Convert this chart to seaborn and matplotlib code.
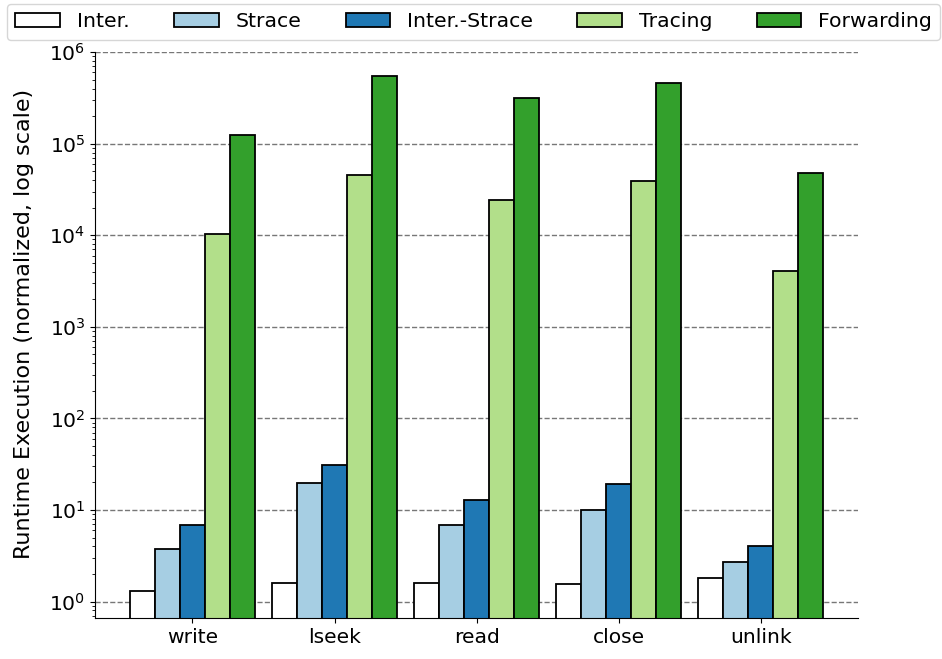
import matplotlib
matplotlib.use("Agg")
import matplotlib.pyplot as plt
import seaborn as sns
import pandas as pd

operations = ["write", "lseek", "read", "close", "unlink"]
methods = ["Inter.", "Strace", "Inter.-Strace", "Tracing", "Forwarding"]
inter = [1.3, 1.6, 1.58, 1.56, 1.82]
strace = [3.8, 19.6, 6.8, 10.1, 2.68]
inter_strace = [6.9, 31, 13, 19.3, 4.07]
tracing = [10400, 46000, 24000, 39500, 4030]
forwarding = [125000, 550000, 318000, 460000, 48300]
colors = ["#ffffff", "#a6cee3", "#1f78b4", "#b2df8a", "#33a02c"]

series = [inter, strace, inter_strace, tracing, forwarding]
rows = []
for m, vals in zip(methods, series):
    for op, v in zip(operations, vals):
        rows.append({"op": op, "method": m, "value": v})
df = pd.DataFrame(rows)

fig = plt.figure(figsize=(9.42, 6.59), dpi=100)
ax = fig.add_axes([0.101, 0.062, 0.81, 0.859])

sns.barplot(data=df, x="op", y="value", hue="method", order=operations,
            hue_order=methods, palette=colors, edgecolor="black",
            linewidth=1.3, width=0.88, gap=0, ax=ax,
            errorbar=None, saturation=1)

ax.set_yscale("log")
ax.set_xlim(-0.684, 4.684)
ax.set_ylim(0.66, 1e6)
ax.set_xlabel("")
ax.set_ylabel("Runtime Execution (normalized, log scale)", fontsize=16.0)
ax.yaxis.set_label_coords(-0.080, 0.52)
ax.tick_params(axis="both", labelsize=14.6)
ax.yaxis.grid(True, which="major", linestyle="--", color="#777777", linewidth=1)
ax.set_axisbelow(True)
sns.despine(ax=ax)

handles, labels = ax.get_legend_handles_labels()
if ax.get_legend() is not None:
    ax.get_legend().remove()
fig.legend(handles, labels, loc="upper center", bbox_to_anchor=(0.503, 1.009),
           ncol=5, fontsize=14.7, handlelength=2.2, columnspacing=2.15,
           handletextpad=0.83, frameon=True)

fig.savefig("out.png", dpi=100)
